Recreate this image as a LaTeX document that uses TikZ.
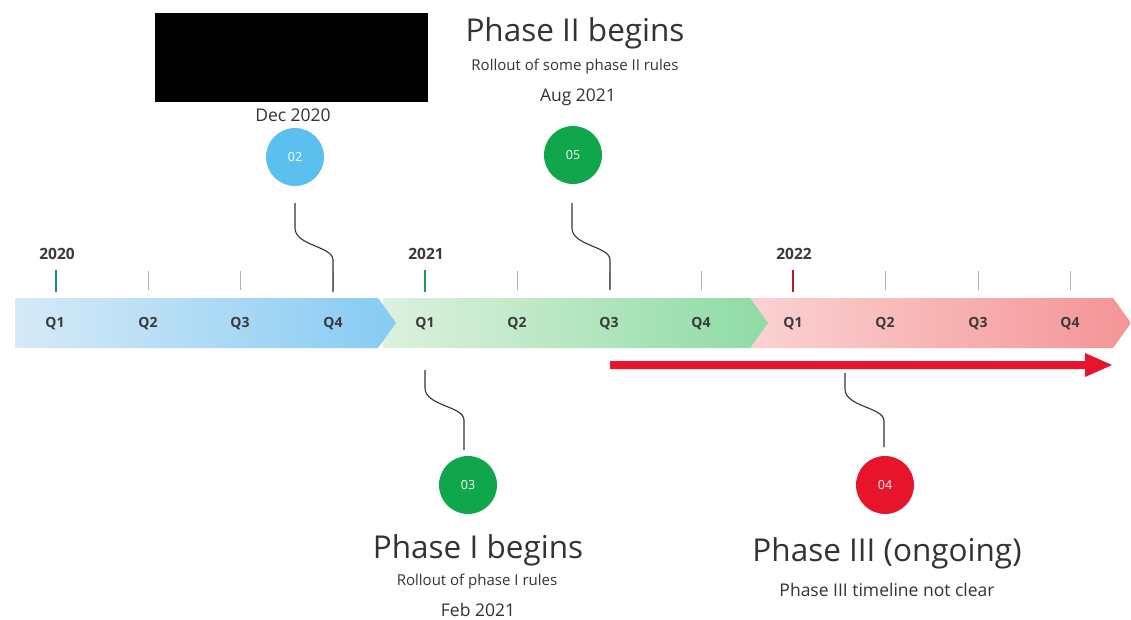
\documentclass[tikz,border=0pt]{standalone}
\usepackage{fontspec}
\setmainfont{Open Sans}
\definecolor{bluea}{HTML}{D6EAF7}
\definecolor{blueb}{HTML}{86CBF3}
\definecolor{greena}{HTML}{DDF1DE}
\definecolor{greenb}{HTML}{8EDBA4}
\definecolor{reda}{HTML}{FBD3D3}
\definecolor{redb}{HTML}{F49496}
\definecolor{cblue}{HTML}{5CC0EF}
\definecolor{cgreen}{HTML}{10A64B}
\definecolor{cred}{HTML}{E8142C}
\definecolor{tteal}{HTML}{1A8A9A}
\definecolor{tgreen}{HTML}{1A9A5A}
\definecolor{tred}{HTML}{C0142C}
\definecolor{txt}{HTML}{333333}
\definecolor{qtxt}{HTML}{3A3A3A}
\begin{document}
\begin{tikzpicture}[x=1pt,y=-1pt,
  qlab/.style={font=\fontsize{14}{16}\selectfont\bfseries, text=qtxt},
  ylab/.style={font=\fontsize{15.5}{17}\selectfont\bfseries, text=qtxt},
  circ/.style={circle, minimum size=58pt, inner sep=0pt, text=white, font=\fontsize{12.5}{14}\selectfont},
  tickg/.style={draw=gray!60, line width=1pt},
  conn/.style={draw=black!80, line width=1.1pt},
  bigt/.style={font=\fontsize{31.5}{34}\selectfont, text=txt},
  midt/.style={font=\fontsize{17.5}{20}\selectfont, text=txt},
  smallt/.style={font=\fontsize{15}{17}\selectfont, text=txt},
]
\useasboundingbox (0,0) rectangle (1131,619);
\fill[white] (0,0) rectangle (1131,619);

% band segments
\shade[left color=reda, right color=redb] (745,298) -- (1113,298) -- (1131,323) -- (1113,348) -- (745,348) -- cycle;
\shade[left color=greena, right color=greenb] (383,298) -- (750,298) -- (768,323) -- (750,348) -- (383,348) -- cycle;
\shade[left color=bluea, right color=blueb] (15,298) -- (378,298) -- (396,323) -- (378,348) -- (15,348) -- cycle;

% quarter labels
\foreach \x/\q/\n in {55/Q1/a1,148/Q2/a2,240/Q3/a3,333/Q4/a4,425/Q1/b1,517/Q2/b2,609/Q3/b3,701/Q4/b4,793/Q1/c1,885/Q2/c2,978/Q3/c3,1070/Q4/c4}
  \node[qlab] (q\n) at (\x,324) {\q};

% ticks
\foreach \x in {148,240,333,517,609,701,885,978,1070}
  \draw[tickg] (\x,271) -- (\x,290);
\draw[draw=tteal, line width=1.8pt] (56,270) -- (56,292);
\draw[draw=tgreen, line width=1.8pt] (425,270) -- (425,292);
\draw[draw=tred, line width=1.8pt] (793,270) -- (793,292);

\node[ylab] (y20) at (57,254) {2020};
\node[ylab] (y21) at (426,254) {2021};
\node[ylab] (y22) at (794,254) {2022};

% red arrow
\fill[cred] (610,361) -- (1085,361) -- (1085,353) -- (1112,365) -- (1085,377) -- (1085,369) -- (610,369) -- cycle;

% redaction block
\fill[black] (155,13) rectangle (428,102);

% circles
\node[circ, fill=cblue] (k2) at (295,157) {02};
\node[circ, fill=cgreen] (k5) at (573,155) {05};
\node[circ, fill=cgreen] (k3) at (468,485) {03};
\node[circ, fill=cred] (k4) at (885,485) {04};

% connector coordinates
\coordinate (s2) at (295,203);
\coordinate (e2) at (333,292);
\coordinate (s5) at (572,203);
\coordinate (e5) at (610,290);
\coordinate (s3) at (425,370);
\coordinate (e3) at (464,450);
\coordinate (s4) at (845,373);
\coordinate (e4) at (884,447);

\draw[conn] (s2) -- ++(0,25) .. controls +(0,18) and +(0,-14) .. ++(38,32) -- (e2);
\draw[conn] (s5) -- ++(0,25) .. controls +(0,18) and +(0,-14) .. ++(38,32) -- (e5);
\draw[conn] (s3) -- ++(0,18) .. controls +(0,18) and +(0,-14) .. ++(39,32) -- (e3);
\draw[conn] (s4) -- ++(0,16) .. controls +(0,18) and +(0,-14) .. ++(39,32) -- (e4);

% texts
\node[midt] (d20) at (293,115) {Dec 2020};
\node[bigt] (p2) at (575,33) {Phase II begins};
\node[smallt] (p2r) at (575,67) {Rollout of some phase II rules};
\node[midt] (p2d) at (578,97) {Aug 2021};
\node[bigt] (p1) at (478,550) {Phase I begins};
\node[smallt] (p1r) at (477,582) {Rollout of phase I rules};
\node[midt] (p1d) at (478,610) {Feb 2021};
\node[bigt] (p3) at (887,553) {Phase III (ongoing)};
\node[midt] (p3r) at (887,590) {Phase III timeline not clear};
\end{tikzpicture}
\end{document}
